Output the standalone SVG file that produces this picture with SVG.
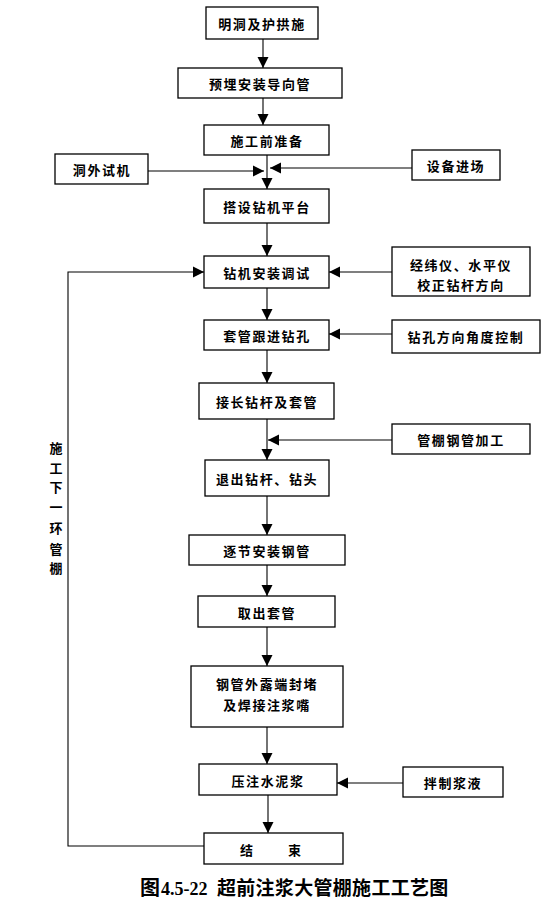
<svg xmlns="http://www.w3.org/2000/svg" width="553" height="906" viewBox="0 0 553 906">
<defs>
<marker id="ah" markerUnits="userSpaceOnUse" markerWidth="12" markerHeight="12" viewBox="0 0 12 12" refX="11" refY="6" orient="auto">
<path d="M0,0.5 L11,6 L0,11.5 Z" fill="#000"/>
</marker>
<style>
.b{fill:#fff;stroke:#000;stroke-width:1.3}
.t{font-family:"Noto Sans CJK SC","Liberation Sans",sans-serif;font-size:13px;font-weight:600;letter-spacing:1.6px;text-anchor:middle;dominant-baseline:central;fill:#000}
.c line,.c polyline{stroke:#000;stroke-width:1.1;fill:none;marker-end:url(#ah)}
.cap{font-family:"Liberation Serif","Noto Sans CJK SC",serif;font-weight:bold;fill:#000}
.cj{font-family:"Noto Sans CJK SC",sans-serif}
</style>
</defs>
<rect width="553" height="906" fill="#fff"/>
<g class="c" id="connectors">
<line x1="263" y1="39" x2="263" y2="68"/>
<line x1="263" y1="98" x2="263" y2="125"/>
<line x1="267" y1="155" x2="267" y2="189"/>
<line x1="148" y1="171" x2="264" y2="171"/>
<line x1="412" y1="168" x2="270" y2="168"/>
<line x1="267" y1="223" x2="267" y2="256"/>
<line x1="392" y1="272" x2="329" y2="272"/>
<line x1="267" y1="288" x2="267" y2="320"/>
<line x1="392" y1="334" x2="329" y2="334"/>
<line x1="267" y1="350" x2="267" y2="383"/>
<line x1="267" y1="419" x2="267" y2="460"/>
<line x1="392" y1="440" x2="268" y2="440"/>
<line x1="267" y1="496" x2="267" y2="535"/>
<line x1="267" y1="565" x2="267" y2="596"/>
<line x1="267" y1="627" x2="267" y2="666"/>
<line x1="267" y1="727" x2="267" y2="764"/>
<line x1="403" y1="783" x2="337" y2="783"/>
<line x1="268" y1="795" x2="268" y2="833"/>
<polyline points="204,846 68,846 68,272 204,272"/>
</g>
<g id="n1"><rect class="b" x="206" y="7" width="112" height="32"/><text class="t" x="262" y="23">明洞及护拱施</text></g>
<g id="n2"><rect class="b" x="178" y="68" width="164" height="30"/><text class="t" x="260" y="83">预埋安装导向管</text></g>
<g id="n3"><rect class="b" x="204" y="125" width="125" height="30"/><text class="t" x="267" y="140">施工前准备</text></g>
<g id="n4"><rect class="b" x="55" y="154" width="93" height="30"/><text class="t" x="102" y="169">洞外试机</text></g>
<g id="n5"><rect class="b" x="412" y="150" width="88" height="30"/><text class="t" x="456" y="165">设备进场</text></g>
<g id="n6"><rect class="b" x="204" y="189" width="125" height="34"/><text class="t" x="267" y="206">搭设钻机平台</text></g>
<g id="n7"><rect class="b" x="204" y="256" width="125" height="32"/><text class="t" x="267" y="272">钻机安装调试</text></g>
<g id="n8"><rect class="b" x="392" y="247" width="138" height="49"/><text class="t" x="461" y="264">经纬仪、水平仪</text><text class="t" x="461" y="284">校正钻杆方向</text></g>
<g id="n9"><rect class="b" x="204" y="320" width="125" height="30"/><text class="t" x="267" y="335">套管跟进钻孔</text></g>
<g id="n10"><rect class="b" x="392" y="320" width="148" height="33"/><text class="t" x="466" y="336">钻孔方向角度控制</text></g>
<g id="n11"><rect class="b" x="199" y="383" width="135" height="36"/><text class="t" x="267" y="401">接长钻杆及套管</text></g>
<g id="n12"><rect class="b" x="392" y="424" width="138" height="30"/><text class="t" x="461" y="439">管棚钢管加工</text></g>
<g id="n13"><rect class="b" x="205" y="460" width="124" height="36"/><text class="t" x="267" y="478">退出钻杆、钻头</text></g>
<g id="n14"><rect class="b" x="189" y="535" width="156" height="30"/><text class="t" x="267" y="550">逐节安装钢管</text></g>
<g id="n15"><rect class="b" x="198" y="596" width="137" height="31"/><text class="t" x="267" y="612">取出套管</text></g>
<g id="n16"><rect class="b" x="191" y="666" width="152" height="61"/><text class="t" x="267" y="683">钢管外露端封堵</text><text class="t" x="267" y="704">及焊接注浆嘴</text></g>
<g id="n17"><rect class="b" x="199" y="764" width="138" height="31"/><text class="t" x="268" y="780">压注水泥浆</text></g>
<g id="n18"><rect class="b" x="403" y="767" width="100" height="30"/><text class="t" x="453" y="782">拌制浆液</text></g>
<g id="n19"><rect class="b" x="204" y="833" width="139" height="31"/><text class="t" x="272" y="849" style="letter-spacing:3px">结　　束</text></g>
<g id="loop-label"><text class="t" style="letter-spacing:0"><tspan x="56" y="447">施</tspan><tspan x="56" y="467">工</tspan><tspan x="56" y="486">下</tspan><tspan x="56" y="506">一</tspan><tspan x="56" y="527">环</tspan><tspan x="56" y="548">管</tspan><tspan x="56" y="567">棚</tspan></text></g>
<g id="caption"><text class="cap" y="895"><tspan class="cj" x="140" font-size="20">图</tspan><tspan x="161" font-size="18">4.5-22 </tspan><tspan class="cj" x="217" font-size="19" letter-spacing="0.3">超前注浆大管棚施工工艺图</tspan></text></g>
</svg>
